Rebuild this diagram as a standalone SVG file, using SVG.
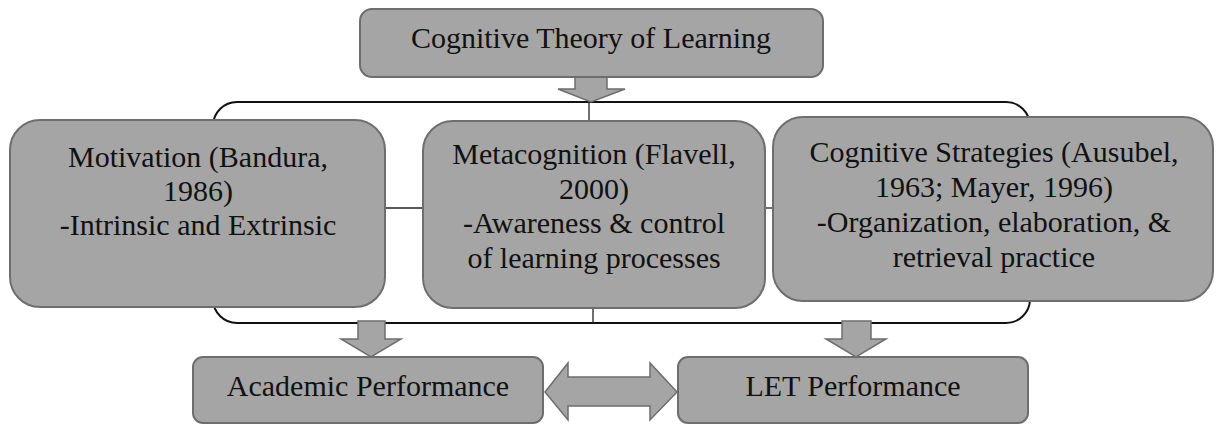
<svg xmlns="http://www.w3.org/2000/svg" width="1223" height="428" viewBox="0 0 1223 428">
  <style>
    .box { fill: #a5a5a5; stroke: #6e6e6e; stroke-width: 2; }
    .arr { fill: #a5a5a5; stroke: #6e6e6e; stroke-width: 1.5; stroke-linejoin: miter; }
    .line { fill: none; stroke: #111; stroke-width: 2; }
    .thin { fill: none; stroke: #222; stroke-width: 1.3; }
    .t { font-size: 30px; fill: #111; text-anchor: middle; }
  </style>
  <rect width="1223" height="428" fill="#ffffff"/>

  <!-- bracket frame and connecting lines -->
  <g id="connectors">
    <rect class="line" x="213" y="102" width="817" height="221" rx="24" ry="24"/>
    <line class="thin" x1="589" y1="102" x2="589" y2="121"/>
    <line class="thin" x1="593" y1="308" x2="593" y2="323"/>
    <line class="thin" x1="385" y1="208" x2="423" y2="208"/>
    <line class="thin" x1="765" y1="208" x2="773" y2="208"/>
    <!-- block arrows -->
    <polygon class="arr" points="575,77 607,77 607,89 625,89 591,102 558,89 575,89"/>
    <polygon class="arr" points="358,321 385,321 385,339 401,339 371,357 341,339 358,339"/>
    <polygon class="arr" points="842,321 871,321 871,339 886,339 856,357 826,339 842,339"/>
    <polygon class="arr" points="545,392 568,363 568,377 650,377 650,363 677,392 650,420 650,406 568,406 568,420"/>
  </g>

  <g font-family="Liberation Serif, DejaVu Serif, serif">
  <g id="theory">
    <rect class="box" x="360" y="9" width="463" height="68" rx="12"/>
    <text class="t" x="591" y="48">Cognitive Theory of Learning</text>
  </g>

  <g id="motivation">
    <rect class="box" x="10" y="120" width="375" height="187" rx="30"/>
    <text class="t" x="198" y="167">Motivation (Bandura,</text>
    <text class="t" x="198" y="201">1986)</text>
    <text class="t" x="198" y="235">-Intrinsic and Extrinsic</text>
  </g>

  <g id="metacognition">
    <rect class="box" x="423" y="121" width="342" height="187" rx="30"/>
    <text class="t" x="594" y="164">Metacognition (Flavell,</text>
    <text class="t" x="594" y="199">2000)</text>
    <text class="t" x="594" y="233">-Awareness &amp; control</text>
    <text class="t" x="594" y="268">of learning processes</text>
  </g>

  <g id="strategies">
    <rect class="box" x="773" y="117" width="440" height="184" rx="30"/>
    <text class="t" x="994" y="162" font-size="31">Cognitive Strategies (Ausubel,</text>
    <text class="t" x="994" y="197" font-size="31">1963; Mayer, 1996)</text>
    <text class="t" x="994" y="232" font-size="31">-Organization, elaboration, &amp;</text>
    <text class="t" x="994" y="267" font-size="31">retrieval practice</text>
  </g>

  <g id="academic">
    <rect class="box" x="193" y="357" width="350" height="66" rx="10"/>
    <text class="t" x="368" y="396">Academic Performance</text>
  </g>

  <g id="let">
    <rect class="box" x="678" y="357" width="350" height="66" rx="10"/>
    <text class="t" x="853" y="396">LET Performance</text>
  </g>
  </g>
</svg>
